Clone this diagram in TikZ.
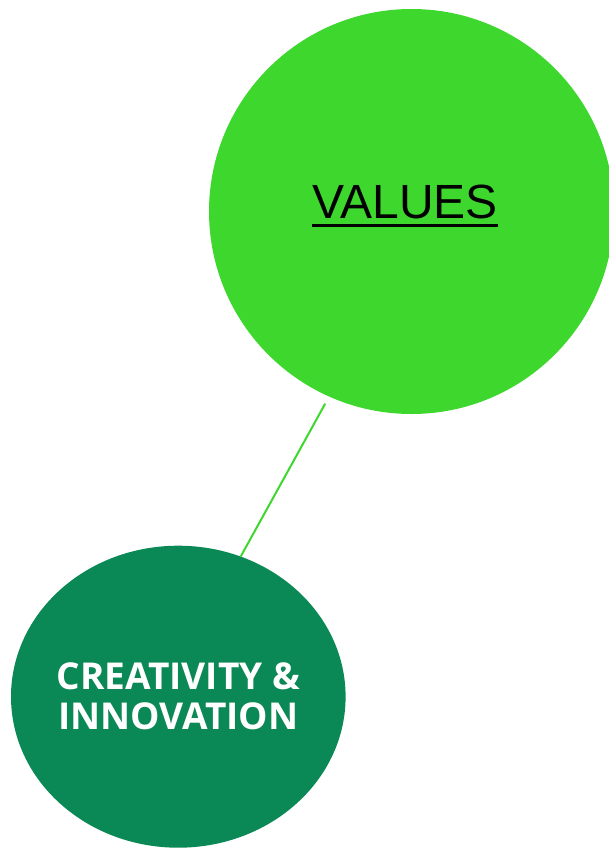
\documentclass[tikz,border=0pt]{standalone}
\usepackage{fontspec}
\setmainfont{Liberation Sans}
\newfontfamily\opensans{Open Sans}
\usetikzlibrary{shapes.geometric}
\definecolor{valuegreen}{HTML}{3DD72E}
\definecolor{ideagreen}{HTML}{0A8855}
\newcommand{\thickul}[1]{\setbox0\hbox{#1}\rlap{\vrule height -5.2pt depth 8.2pt width \wd0}\box0}

\begin{document}
\begin{tikzpicture}[x=1pt,y=-1pt,
  bubble/.style={circle,fill=valuegreen,inner sep=0pt,minimum size=405pt},
  idea/.style={ellipse,fill=ideagreen,inner sep=-20pt,minimum width=334.6pt,minimum height=302pt,
    text=white,align=center,font=\opensans\bfseries\fontsize{37}{40}\selectfont}]
%frame
\clip (0,0) rectangle (609,848);
%bubbles
\node[bubble] (values) at (411.5,211.5) {};
\node[anchor=base,font=\fontsize{48}{58}\selectfont] (valuestext) at (405,218.3) {\thickul{VALUES}};
\node[idea] (creativity) at (178.3,696.7) {CREATIVITY \&\\INNOVATION};
%link
\draw[valuegreen,line width=2pt,shorten <=8pt] (values.246) -- (creativity.66);
\end{tikzpicture}
\end{document}
